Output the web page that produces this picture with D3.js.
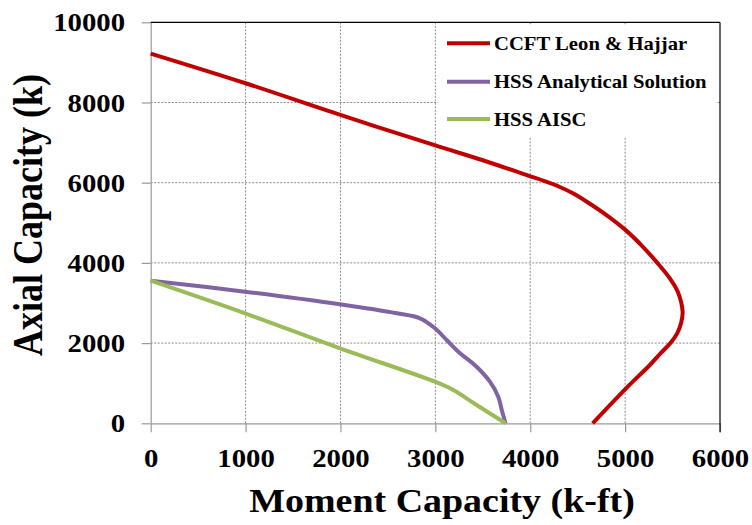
<!DOCTYPE html>
<html>
<head>
<meta charset="utf-8">
<script src="https://cdn.jsdelivr.net/npm/d3@7"></script>
<style>
  html, body { margin: 0; padding: 0; background: #fff; }
  svg { display: block; }
  text { font-family: "Liberation Serif", "Times New Roman", serif; font-weight: bold; fill: #000; }
</style>
</head>
<body>
<svg id="chart" width="752" height="525"></svg>
<script>
// Interaction curves: moment capacity (k-ft) vs axial capacity (k)
const ccftMoment = [0, 1000, 2000, 3000, 3500, 4000, 4150, 4300, 4450, 4600, 4800, 5000, 5180, 5340, 5470, 5555, 5606, 5590, 5550, 5480, 5380, 5261, 5010, 4658];
const ccftAxial  = [9220, 8480, 7690, 6930, 6560, 6160, 6040, 5905, 5735, 5520, 5200, 4830, 4420, 4000, 3620, 3280, 2780, 2500, 2250, 2010, 1760, 1454, 873, 0];

const hssMoment = [0, 994, 1995, 2592, 2838, 2996, 3119, 3242, 3435, 3575, 3663, 3700, 3740];
const hssAxial  = [3556, 3282, 2967, 2743, 2618, 2369, 2077, 1786, 1411, 1037, 663, 332, 0];

const aiscMoment = [0, 994, 1995, 2996, 3189, 3435, 3740];
const aiscAxial  = [3556, 2743, 1870, 1037, 830, 456, 0];

const seriesNames = ["CCFT Leon & Hajjar", "HSS Analytical Solution", "HSS AISC"];
const seriesColors = ["#C00000", "#8064A2", "#9BBB59"];

const xTicks = [0, 1000, 2000, 3000, 4000, 5000, 6000];
const yTicks = [0, 2000, 4000, 6000, 8000, 10000];

const xTitle = "Moment Capacity (k-ft)";
const yTitle = "Axial Capacity (k)";

const series = [
  { name: seriesNames[0], color: seriesColors[0], pts: ccftMoment.map((m, i) => [m, ccftAxial[i]]) },
  { name: seriesNames[1], color: seriesColors[1], pts: hssMoment.map((m, i) => [m, hssAxial[i]]) },
  { name: seriesNames[2], color: seriesColors[2], pts: aiscMoment.map((m, i) => [m, aiscAxial[i]]) }
];

const svg = d3.select("#chart");
const plot = { left: 150.7, right: 720, top: 22.3, bottom: 423.3 };
const SX = 1.15; // horizontal text widening

const x = d3.scaleLinear().domain([0, 6000]).range([plot.left, plot.right]);
const y = d3.scaleLinear().domain([0, 10000]).range([plot.bottom, plot.top]);

// dotted grid
const grid = svg.append("g").attr("stroke", "#8c8c8c").attr("stroke-width", 1).attr("stroke-dasharray", "2,1.5");
grid.selectAll("line.v").data(xTicks.filter(d => d > 0 && d < 6000)).join("line")
  .attr("x1", d => x(d)).attr("x2", d => x(d)).attr("y1", plot.top).attr("y2", plot.bottom);
grid.selectAll("line.h").data(yTicks.filter(d => d > 0 && d < 10000)).join("line")
  .attr("x1", plot.left).attr("x2", plot.right).attr("y1", d => y(d)).attr("y2", d => y(d));

// axes
const xAxis = svg.append("g").attr("transform", `translate(0,${plot.bottom})`)
  .call(d3.axisBottom(x).tickValues(xTicks).tickSize(9).tickSizeOuter(0).tickFormat(d3.format("d")));
xAxis.selectAll("text").attr("y", 44).attr("dy", 0).attr("font-size", 25)
  .attr("transform", `scale(${SX},1)`);

const yAxis = svg.append("g").attr("transform", `translate(${plot.left},0)`)
  .call(d3.axisLeft(y).tickValues(yTicks).tickSize(9).tickSizeOuter(0).tickFormat(d3.format("d")));
yAxis.selectAll("text").attr("x", -25.7 / SX).attr("dy", "0.34em").attr("font-size", 25)
  .attr("transform", `scale(${SX},1)`);

[xAxis, yAxis].forEach(g => {
  g.attr("font-family", null).attr("font-size", null);
  g.select(".domain").attr("stroke", "#9a9a9a").attr("stroke-width", 1.2);
  g.selectAll(".tick line").attr("stroke", "#9a9a9a").attr("stroke-width", 1.2);
});

// plot border (top and right)
svg.append("line").attr("x1", plot.left).attr("x2", plot.right).attr("y1", plot.top).attr("y2", plot.top)
  .attr("stroke", "#000").attr("stroke-width", 1.2);
svg.append("line").attr("x1", plot.right).attr("x2", plot.right).attr("y1", plot.top).attr("y2", plot.bottom + 9)
  .attr("stroke", "#000").attr("stroke-width", 1.2);

// legend
const legend = svg.append("g");
legend.append("rect").attr("x", 438).attr("y", 25).attr("width", 278).attr("height", 112).attr("fill", "#fff");
const legendRows = [43.3, 81.7, 119];
series.forEach((s, i) => {
  legend.append("line").attr("x1", 447).attr("x2", 490).attr("y1", legendRows[i]).attr("y2", legendRows[i])
    .attr("stroke", s.color).attr("stroke-width", 4);
  legend.append("text").attr("transform", `translate(494,${legendRows[i] + 6.7}) scale(${SX},1)`)
    .attr("font-size", 18).text(s.name);
});

// curves
const line = d3.line().x(d => x(d[0])).y(d => y(d[1])).curve(d3.curveCatmullRom.alpha(0.5));
svg.append("g").selectAll("path").data(series).join("path")
  .attr("d", d => line(d.pts)).attr("fill", "none")
  .attr("stroke", d => d.color).attr("stroke-width", 4).attr("stroke-linejoin", "round");

// axis titles
svg.append("text").attr("transform", `translate(442,511.7) scale(${SX},1)`)
  .attr("text-anchor", "middle").attr("font-size", 33).text(xTitle);
svg.append("text").attr("transform", `translate(42,215) scale(${SX},1) rotate(-90)`)
  .attr("text-anchor", "middle").attr("font-size", 36).text(yTitle);
</script>
</body>
</html>
